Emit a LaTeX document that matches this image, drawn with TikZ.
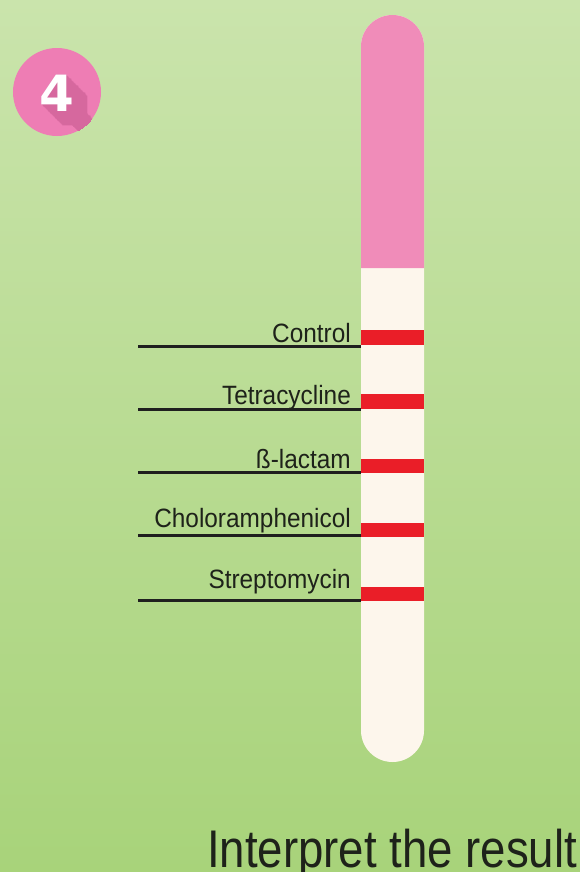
\documentclass[tikz,border=0pt]{standalone}
\usepackage{fontspec}
\setmainfont{Liberation Sans}
\newfontfamily\labelfont[FakeStretch=0.92]{Liberation Sans}
\newfontfamily\titlefont[FakeStretch=0.86]{Liberation Sans}
\newfontfamily\badgefont{DejaVu Sans}
\usetikzlibrary{positioning}
\definecolor{bgtop}{RGB}{202,228,172}
\definecolor{bgbot}{RGB}{168,211,122}
\definecolor{padpink}{RGB}{240,140,185}
\definecolor{stripcream}{RGB}{253,246,236}
\definecolor{bandred}{RGB}{234,30,40}
\definecolor{badgepink}{RGB}{238,125,180}
\definecolor{badgeshade}{RGB}{214,104,158}
\definecolor{inkdark}{RGB}{30,34,26}
\tikzset{
  band/.style={rectangle, fill=bandred, minimum width=63bp, minimum height=14.5bp, inner sep=0pt},
  lbl/.style={anchor=base east, inner sep=0pt, text=inkdark,
    font=\labelfont\fontsize{26.5bp}{30bp}\selectfont},
  leader/.style={line width=3bp, draw=black!88},
  digit/.style={anchor=base, inner sep=0pt, font=\badgefont\bfseries\fontsize{50bp}{56bp}\selectfont},
}

\begin{document}
\begin{tikzpicture}[x=1bp, y=-1bp, node distance=49.25bp]
  \useasboundingbox (0,0) rectangle (580,872);
  \shade[top color=bgtop, bottom color=bgbot] (0,0) rectangle (580,872);

  % Badge
  \fill[badgepink] (57,92) circle (44bp);
  \begin{scope}
    \clip (57,92) circle (44bp);
    \foreach \k in {1,...,30}
      \node[digit, text=badgeshade] (shadow\k) at (56.5+\k*0.7,111+\k*0.7) {4};
  \end{scope}
  \node[digit, text=white] (badge) at (56.5,111) {4};

  % Strip
  \fill[stripcream] (361,46.5) arc[start angle=180, end angle=0, radius=31.5bp]
    -- (424,730.5) arc[start angle=0, end angle=-180, radius=31.5bp] -- cycle;
  \fill[padpink] (361,268) -- (361,46.5) arc[start angle=180, end angle=0, radius=31.5bp]
    -- (424,268) -- cycle;

  % Leader ends
  \coordinate (control-end) at (138,346);
  \coordinate (tetra-end) at (138,409);
  \coordinate (lactam-end) at (138,472);
  \coordinate (chlor-end) at (138,535);
  \coordinate (strep-end) at (138,600);

  \node[band] (control) at (392.5,337.5) {};
  \node[band, below=of control] (tetra) {};
  \node[band, below=of tetra] (lactam) {};
  \node[band, below=of lactam] (chlor) {};
  \node[band, below=of chlor] (strep) {};

  \draw[leader] (control-end) -- (control-end -| control.west);
  \draw[leader] (tetra-end) -- (tetra-end -| tetra.west);
  \draw[leader] (lactam-end) -- (lactam-end -| lactam.west);
  \draw[leader] (chlor-end) -- (chlor-end -| chlor.west);
  \draw[leader] (strep-end) -- (strep-end -| strep.west);

  \node[lbl] (control-lbl) at (351,342) {Control};
  \node[lbl] (tetra-lbl) at (351,404) {Tetracycline};
  \node[lbl] (lactam-lbl) at (351,468) {ß-lactam};
  \node[lbl] (chlor-lbl) at (351,527) {Choloramphenicol};
  \node[lbl] (strep-lbl) at (351,588) {Streptomycin};

  \node[anchor=base west, inner sep=0pt, text=inkdark,
    font=\titlefont\fontsize{53bp}{60bp}\selectfont] (title) at (207,867) {Interpret the result};
\end{tikzpicture}
\end{document}
